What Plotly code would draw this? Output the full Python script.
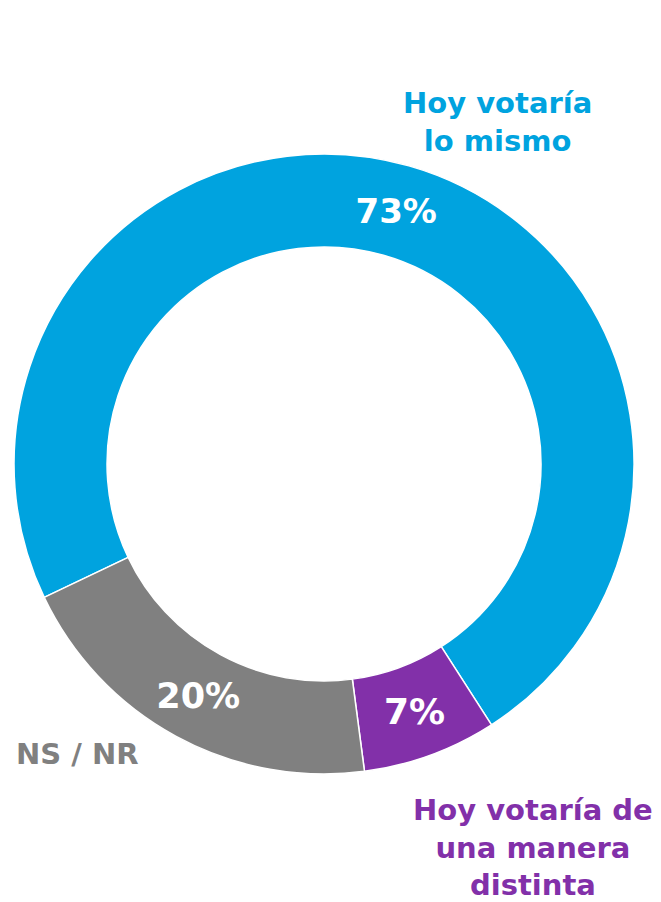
import plotly.graph_objects as go

categories = ["Hoy votaría lo mismo", "Hoy votaría de una manera distinta", "NS / NR"]
values = [73, 7, 20]
colors = ["#00A3DF", "#8230A9", "#808080"]
outer_labels = ["Hoy votaría<br>lo mismo", "Hoy votaría de<br>una manera<br>distinta", "NS / NR"]

FONT = "DejaVu Sans"

fig = go.Figure(go.Pie(
    labels=categories,
    values=values,
    hole=0.70,
    sort=False,
    direction="clockwise",
    rotation=244.5,
    marker=dict(colors=colors, line=dict(color="white", width=1.5)),
    textinfo="percent",
    texttemplate="%{percent:.0%}",
    textposition="inside",
    insidetextorientation="horizontal",
    textfont=dict(family=FONT, size=[34, 36, 36], color="white", weight=700),
    showlegend=False,
    domain=dict(x=[0.0092, 0.9587], y=[0.1432, 0.8367]),
))

label_font = dict(family=FONT, size=29, weight=700)
fig.add_annotation(text=outer_labels[0], x=0.749, y=0.8725, xref="paper", yref="paper",
                   xanchor="center", yanchor="middle", showarrow=False, align="center",
                   font=dict(label_font, color=colors[0]))
fig.add_annotation(text=outer_labels[1], x=0.804, y=0.0615, xref="paper", yref="paper",
                   xanchor="center", yanchor="middle", showarrow=False, align="center",
                   font=dict(label_font, color=colors[1]))
fig.add_annotation(text=outer_labels[2], x=0.009, y=0.1655, xref="paper", yref="paper",
                   xanchor="left", yanchor="middle", showarrow=False, align="left",
                   font=dict(label_font, color=colors[2]))

fig.update_layout(
    width=653, height=894,
    margin=dict(l=0, r=0, t=0, b=0),
    paper_bgcolor="white", plot_bgcolor="white",
)

fig.write_html("out.html")
